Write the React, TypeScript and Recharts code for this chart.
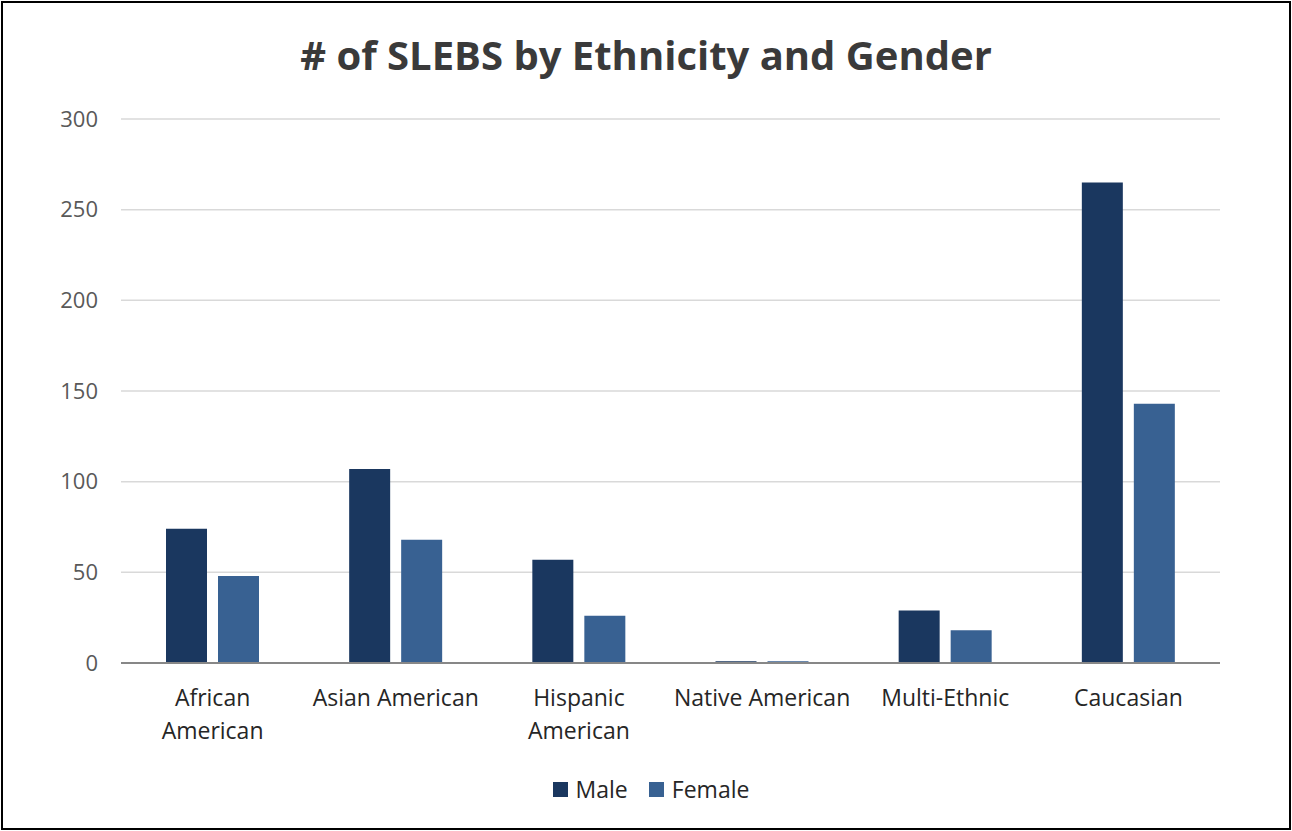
import React from 'react';
import { BarChart, Bar, XAxis, YAxis, CartesianGrid, Legend } from 'recharts';

const categories = ['African American', 'Asian American', 'Hispanic American', 'Native American', 'Multi-Ethnic', 'Caucasian'];
const tickLabelLines = [['African', 'American'], ['Asian American'], ['Hispanic', 'American'], ['Native American'], ['Multi-Ethnic'], ['Caucasian']];
const maleValues = [74, 107, 57, 1, 29, 265];
const femaleValues = [48, 68, 26, 1, 18, 143];
const yTicks = [0, 50, 100, 150, 200, 250, 300];
const seriesNames = ['Male', 'Female'];
const seriesColors = ['#1A375F', '#386192'];
const titleText = '# of SLEBS by Ethnicity and Gender';

const data = categories.map((c, i) => ({ name: c, Male: maleValues[i], Female: femaleValues[i] }));

const FONT = '"Open Sans", sans-serif';

const XTick = (props: any) => {
  const { x, y, payload } = props;
  const lines = tickLabelLines[payload.index] || [payload.value];
  return (
    <text x={x} y={y} textAnchor="middle" fontFamily={FONT} fontSize={23} fill="#262626">
      {lines.map((l: string, i: number) => (
        <tspan key={i} x={x} dy={i === 0 ? 0 : 33}>{l}</tspan>
      ))}
    </text>
  );
};

const LegendContent = (props: any) => {
  const payload = props.payload || [];
  const ordered = seriesNames.map((n) => payload.find((p: any) => p.value === n)).filter(Boolean);
  return (
    <div style={{ display: 'flex', justifyContent: 'center', alignItems: 'center', fontFamily: FONT, fontSize: 23, color: '#262626', height: 30 }}>
      {ordered.map((p: any, i: number) => (
        <div key={i} style={{ display: 'flex', alignItems: 'center', marginRight: i === 0 ? 21 : 0 }}>
          <div style={{ width: 15, height: 15, background: p.color, marginRight: 8 }} />
          <span>{p.value}</span>
        </div>
      ))}
    </div>
  );
};

export default function App() {
  return (
    <div style={{ position: 'absolute', left: 0, top: 0, width: 1292, height: 831, background: '#fff' }}>
      <div style={{ position: 'absolute', left: 1, top: 1, width: 1290, height: 829, border: '2px solid #000', boxSizing: 'border-box' }} />
      <svg style={{ position: 'absolute', left: 0, top: 0 }} width={1292} height={100}>
        <text x={646} y={70} textAnchor="middle" fontFamily={FONT} fontWeight="bold" fontSize={40} fill="#3A3A3A">{titleText}</text>
      </svg>
      <div style={{ position: 'absolute', left: 0, top: 0 }}>
        <BarChart width={1292} height={831} data={data} margin={{ top: 119, right: 72, left: 0, bottom: 38 }} barSize={41} barGap={11}>
          <CartesianGrid vertical={false} stroke="#D9D9D9" strokeWidth={1.5} />
          <YAxis domain={[0, 300]} ticks={yTicks} width={121} axisLine={false} tickLine={false} tickSize={0} tickMargin={23}
            tick={{ fontFamily: FONT, fontSize: 22, fill: '#595959' }} />
          <XAxis dataKey="name" height={100} interval={0} axisLine={{ stroke: '#878787', strokeWidth: 2 }} tickLine={false} tickSize={0} tickMargin={0}
            tick={(p: any) => <XTick {...p} y={p.y + 43} />} />
          <Legend verticalAlign="bottom" content={<LegendContent />}
            wrapperStyle={{ bottom: 27, left: 0, width: 1292, paddingLeft: 10, boxSizing: 'border-box' }} />
          {seriesNames.map((s, i) => (
            <Bar key={s} dataKey={s} fill={seriesColors[i]} isAnimationActive={false} />
          ))}
        </BarChart>
      </div>
    </div>
  );
}
